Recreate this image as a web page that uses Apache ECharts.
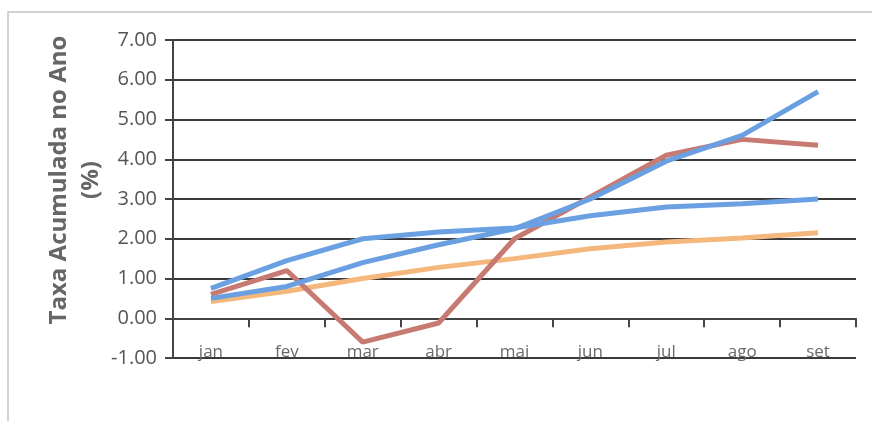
<!DOCTYPE html>
<html><head><meta charset="utf-8">
<script src="https://cdn.jsdelivr.net/npm/echarts@6/dist/echarts.min.js"></script>
<style>html,body{margin:0;padding:0;background:#fff}#c{width:872px;height:421px}</style>
</head><body><div id="c"></div>
<script>
var categories = ['jan','fev','mar','abr','mai','jun','jul','ago','set'];
var serieVermelha = [0.6, 1.2, -0.6, -0.12, 2.0, 3.05, 4.1, 4.5, 4.35];
var serieAzulA = [0.5, 0.8, 1.4, 1.85, 2.25, 3.0, 3.95, 4.6, 5.7];
var serieAzulB = [0.75, 1.45, 2.0, 2.17, 2.27, 2.58, 2.8, 2.88, 3.0];
var serieLaranja = [0.42, 0.68, 1.0, 1.28, 1.5, 1.75, 1.92, 2.02, 2.15];
var yTicks = {min: -1, max: 7, interval: 1};

var chart = echarts.init(document.getElementById('c'));
var lineStyle = function(c){ return {color: c, width: 5}; };
chart.setOption({
  animation: false,
  backgroundColor: '#fff',
  graphic: [
    {type: 'polyline', shape: {points: [[8, 421], [8, 12], [872, 12]]}, style: {stroke: '#c4c4c4', lineWidth: 1.5, fill: null}}
  ],
  grid: {left: 173, right: 16, top: 40, bottom: 63},
  xAxis: {
    type: 'category',
    data: categories,
    boundaryGap: true,
    axisLine: {onZero: true, lineStyle: {color: '#444', width: 2}},
    axisTick: {show: true, length: 9, inside: false, lineStyle: {color: '#444', width: 2}},
    axisLabel: {margin: -14, color: '#6a6a6a', fontSize: 17, fontFamily: 'Open Sans'}
  },
  yAxis: {
    type: 'value',
    min: yTicks.min, max: yTicks.max, interval: yTicks.interval,
    name: 'Taxa Acumulada no Ano\n(%)',
    nameLocation: 'middle',
    nameGap: 66,
    nameMoveOverlap: false,
    nameRotate: 90,
    nameTextStyle: {color: '#666', fontSize: 24, fontWeight: 'bold', fontFamily: 'Open Sans', lineHeight: 32, padding: [0, 0, 0, 38]},
    axisLine: {show: true, lineStyle: {color: '#444', width: 2}},
    axisTick: {show: true, length: 8, lineStyle: {color: '#444', width: 2}},
    axisLabel: {color: '#555', fontSize: 20, fontFamily: 'Open Sans', margin: 16,
      formatter: function(v){ return v.toFixed(2); }},
    splitLine: {show: true, lineStyle: {color: '#3a3a3a', width: 2}}
  },
  series: [
    {type: 'line', data: serieLaranja, symbol: 'none', lineStyle: lineStyle('#f5b87c'), z: 2},
    {type: 'line', data: serieVermelha, symbol: 'none', lineStyle: lineStyle('#c77a72'), z: 3},
    {type: 'line', data: serieAzulB, symbol: 'none', lineStyle: lineStyle('#6ba0e2'), z: 4},
    {type: 'line', data: serieAzulA, symbol: 'none', lineStyle: lineStyle('#6a9fe1'), z: 5}
  ]
});
</script>
</body></html>
